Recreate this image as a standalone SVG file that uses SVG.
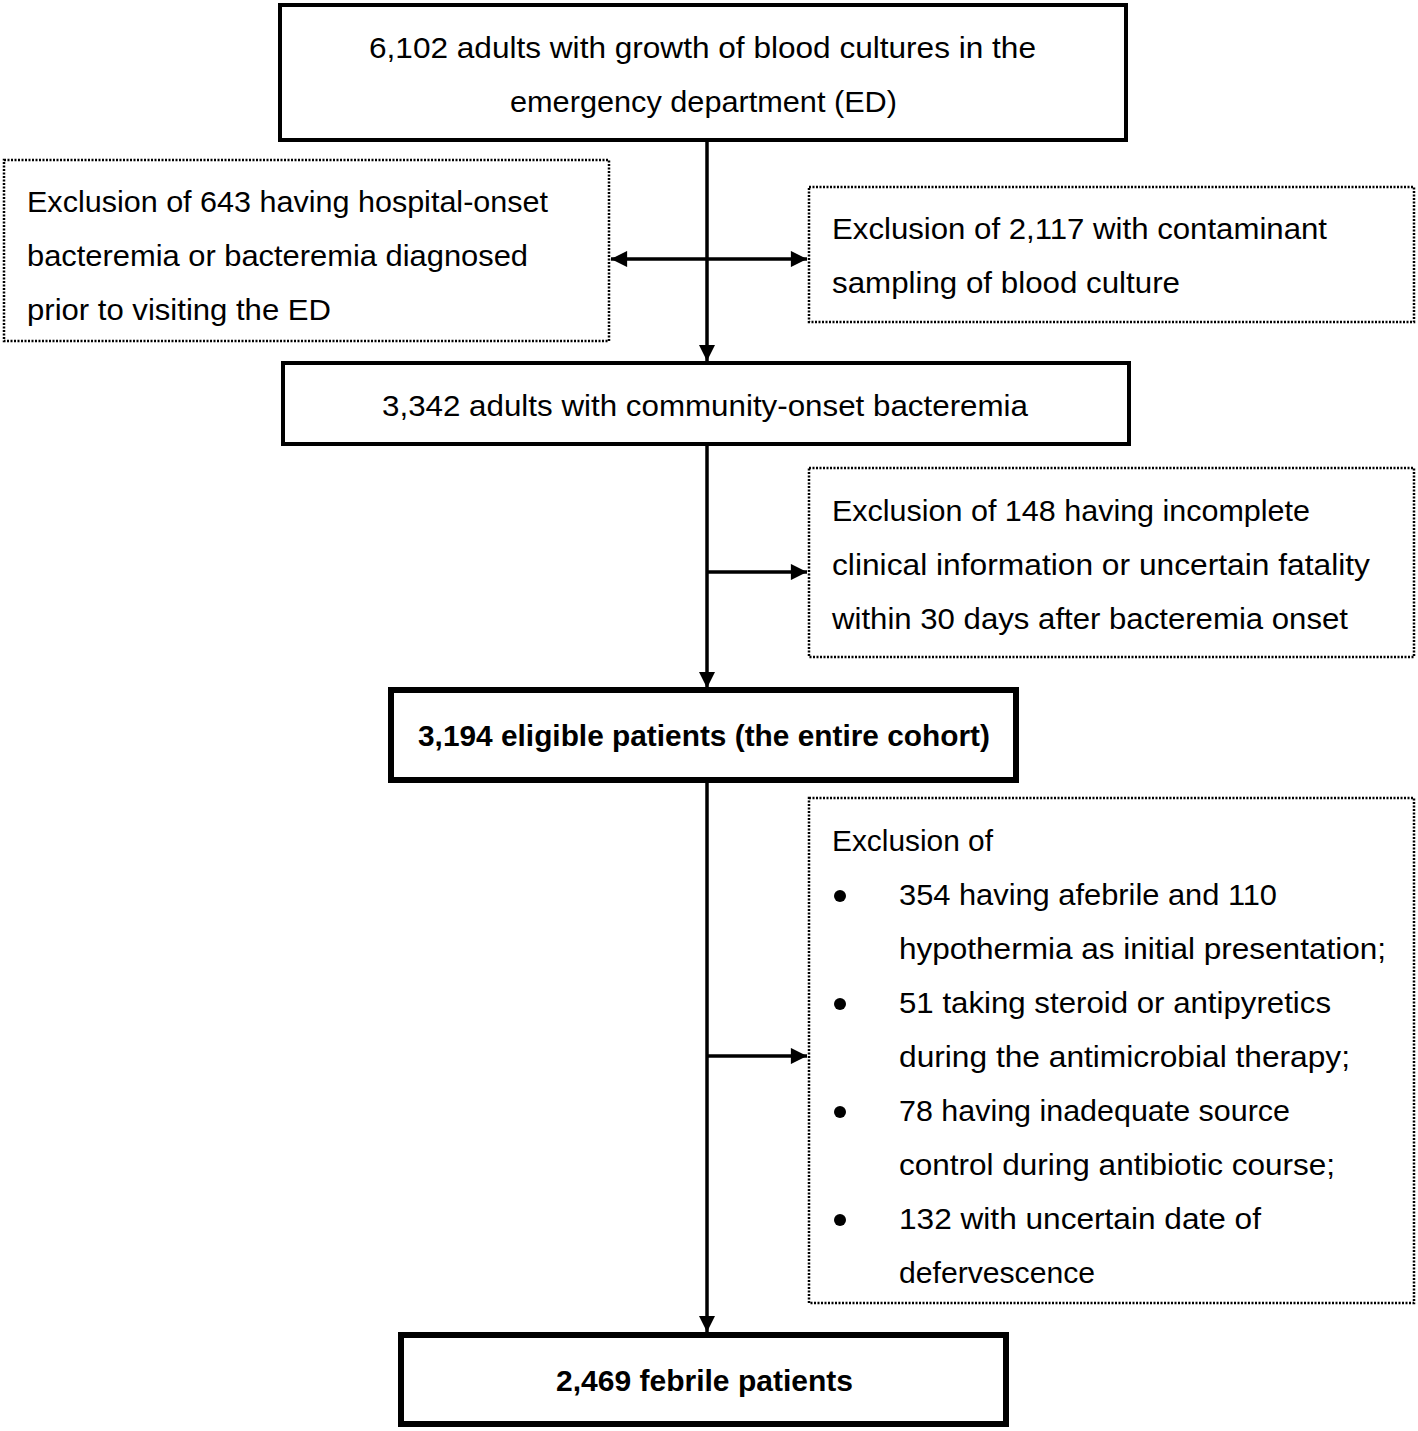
<svg xmlns="http://www.w3.org/2000/svg" width="1418" height="1431" viewBox="0 0 1418 1431">
<style>
text{font-family:"Liberation Sans",Arial,sans-serif;font-size:30px;fill:#000}
.b{font-weight:bold}
.solid{fill:#fff;stroke:#000;stroke-width:4}
.thick{fill:#fff;stroke:#000;stroke-width:6}
.dot{fill:#fff;stroke:#000;stroke-width:2.5;stroke-dasharray:2 1.5}
.ln{stroke:#000;stroke-width:3.5;fill:none}
</style>
<defs>
<marker id="ah" viewBox="0 0 10 10" refX="10" refY="5" markerWidth="5.4" markerHeight="4.6" markerUnits="strokeWidth" orient="auto-start-reverse">
<path d="M0,0 L10,5 L0,10 Z" fill="#000"/>
</marker>
</defs>
<rect width="1418" height="1431" fill="#fff"/>
<g id="connectors">
<line class="ln" x1="707" y1="140" x2="707" y2="361" marker-end="url(#ah)"/>
<line class="ln" x1="611" y1="259" x2="807" y2="259" marker-start="url(#ah)" marker-end="url(#ah)"/>
<line class="ln" x1="707" y1="444" x2="707" y2="688" marker-end="url(#ah)"/>
<line class="ln" x1="707" y1="572" x2="807" y2="572" marker-end="url(#ah)"/>
<line class="ln" x1="707" y1="781" x2="707" y2="1332" marker-end="url(#ah)"/>
<line class="ln" x1="707" y1="1056" x2="807" y2="1056" marker-end="url(#ah)"/>
</g>
<g id="n1">
<rect class="solid" x="280" y="5" width="846" height="135"/>
<text x="369" y="58" textLength="667" lengthAdjust="spacingAndGlyphs">6,102 adults with growth of blood cultures in the</text>
<text x="510" y="112" textLength="387" lengthAdjust="spacingAndGlyphs">emergency department (ED)</text>
</g>
<g id="x1">
<rect class="dot" x="4" y="160" width="605" height="181"/>
<text x="27" y="212" textLength="521" lengthAdjust="spacingAndGlyphs">Exclusion of 643 having hospital-onset</text>
<text x="27" y="266" textLength="501" lengthAdjust="spacingAndGlyphs">bacteremia or bacteremia diagnosed</text>
<text x="27" y="320" textLength="304" lengthAdjust="spacingAndGlyphs">prior to visiting the ED</text>
</g>
<g id="x2">
<rect class="dot" x="809" y="187" width="605" height="135"/>
<text x="832" y="239" textLength="495" lengthAdjust="spacingAndGlyphs">Exclusion of 2,117 with contaminant</text>
<text x="832" y="293" textLength="348" lengthAdjust="spacingAndGlyphs">sampling of blood culture</text>
</g>
<g id="n2">
<rect class="solid" x="283" y="363" width="846" height="81"/>
<text x="382" y="416" textLength="646" lengthAdjust="spacingAndGlyphs">3,342 adults with community-onset bacteremia</text>
</g>
<g id="x3">
<rect class="dot" x="809" y="468" width="605" height="189"/>
<text x="832" y="521" textLength="478" lengthAdjust="spacingAndGlyphs">Exclusion of 148 having incomplete</text>
<text x="832" y="575" textLength="538" lengthAdjust="spacingAndGlyphs">clinical information or uncertain fatality</text>
<text x="832" y="629" textLength="516" lengthAdjust="spacingAndGlyphs">within 30 days after bacteremia onset</text>
</g>
<g id="n3">
<rect class="thick" x="391" y="690" width="625" height="90"/>
<text class="b" x="418" y="746" textLength="572" lengthAdjust="spacingAndGlyphs">3,194 eligible patients (the entire cohort)</text>
</g>
<g id="x4">
<rect class="dot" x="809" y="798" width="605" height="505"/>
<text x="832" y="851" textLength="161" lengthAdjust="spacingAndGlyphs">Exclusion of</text>
<circle cx="840" cy="896" r="6"/>
<circle cx="840" cy="1004" r="6"/>
<circle cx="840" cy="1112" r="6"/>
<circle cx="840" cy="1220" r="6"/>
<text x="899" y="905" textLength="378" lengthAdjust="spacingAndGlyphs">354 having afebrile and 110</text>
<text x="899" y="959" textLength="487" lengthAdjust="spacingAndGlyphs">hypothermia as initial presentation;</text>
<text x="899" y="1013" textLength="432" lengthAdjust="spacingAndGlyphs">51 taking steroid or antipyretics</text>
<text x="899" y="1067" textLength="451" lengthAdjust="spacingAndGlyphs">during the antimicrobial therapy;</text>
<text x="899" y="1121" textLength="391" lengthAdjust="spacingAndGlyphs">78 having inadequate source</text>
<text x="899" y="1175" textLength="436" lengthAdjust="spacingAndGlyphs">control during antibiotic course;</text>
<text x="899" y="1229" textLength="362" lengthAdjust="spacingAndGlyphs">132 with uncertain date of</text>
<text x="899" y="1283" textLength="196" lengthAdjust="spacingAndGlyphs">defervescence</text>
</g>
<g id="n4">
<rect class="thick" x="401" y="1335" width="605" height="89"/>
<text class="b" x="556" y="1391" textLength="297" lengthAdjust="spacingAndGlyphs">2,469 febrile patients</text>
</g>
</svg>
